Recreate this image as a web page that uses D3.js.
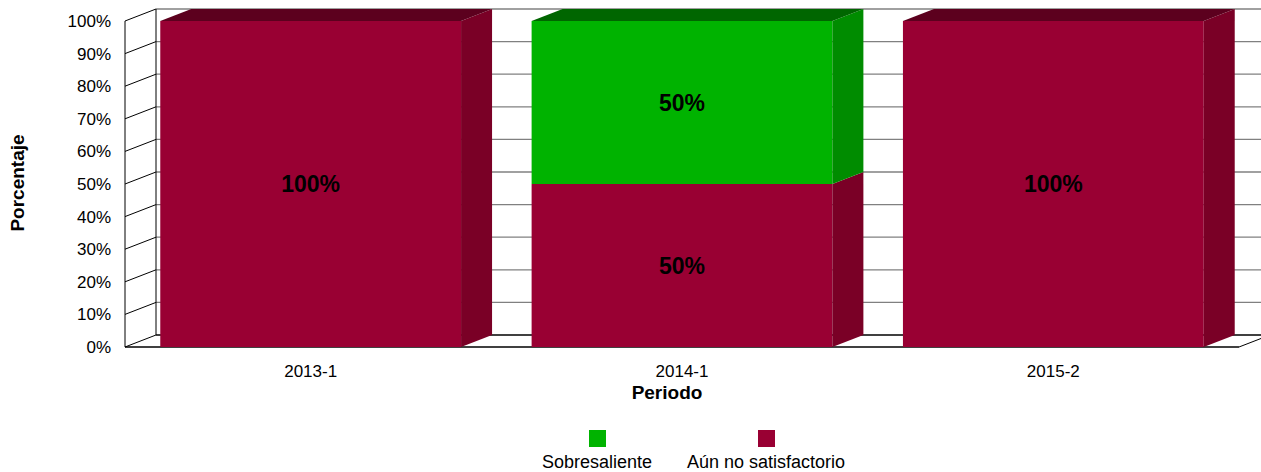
<!DOCTYPE html>
<html>
<head>
<meta charset="utf-8">
<script src="https://cdn.jsdelivr.net/npm/d3@7"></script>
<style>
  html, body { margin: 0; padding: 0; background: #fff; }
  svg { display: block; font-family: "Liberation Sans", Arial, sans-serif; }
</style>
</head>
<body>
<svg id="chart" width="1261" height="472"></svg>
<script>
const categories = ["2013-1", "2014-1", "2015-2"];
const sobresaliente = [0, 50, 0];
const aunNoSatisfactorio = [100, 50, 100];
const seriesNames = ["Sobresaliente", "Aún no satisfactorio"];
const yTickValues = [0, 10, 20, 30, 40, 50, 60, 70, 80, 90, 100];

const colors = {
  "Aún no satisfactorio": { front: "#990033", side: "#7a0026", top: "#5c001e" },
  "Sobresaliente": { front: "#00b300", side: "#008c00", top: "#006600" }
};

const svg = d3.select("#chart");
const DX = 31, DY = -12;

const x = d3.scaleBand().domain(categories).range([125, 1239])
  .paddingInner(0.19).paddingOuter(0.095);
const y = d3.scaleLinear().domain([0, 100]).range([347, 21]);

// gridlines (back wall)
const grid = svg.append("g");
yTickValues.forEach(t => {
  const yy = y(t);
  grid.append("line").attr("x1", 125).attr("y1", yy).attr("x2", 125 + DX).attr("y2", yy + DY)
    .attr("stroke", "#000").attr("stroke-width", 1);
  grid.append("line").attr("x1", 125 + DX).attr("y1", yy + DY).attr("x2", 1239 + DX).attr("y2", yy + DY)
    .attr("stroke", t === 0 ? "#000" : "#808080").attr("stroke-width", 1.3);
});
// walls
grid.append("line").attr("x1", 125).attr("y1", y(0)).attr("x2", 125).attr("y2", y(100)).attr("stroke", "#000");
grid.append("line").attr("x1", 125 + DX).attr("y1", y(0) + DY).attr("x2", 125 + DX).attr("y2", y(100) + DY).attr("stroke", "#000");
// floor
grid.append("line").attr("x1", 125).attr("y1", y(0)).attr("x2", 1239).attr("y2", y(0)).attr("stroke", "#000").attr("stroke-width", 1.5);
grid.append("line").attr("x1", 1239).attr("y1", y(0)).attr("x2", 1239 + DX).attr("y2", y(0) + DY).attr("stroke", "#000");

// y tick labels
svg.append("g").selectAll("text").data(yTickValues).join("text")
  .attr("x", 111).attr("y", d => y(d)).attr("dy", "0.35em")
  .attr("text-anchor", "end").attr("font-size", 17).attr("fill", "#000")
  .text(d => d + "%");

// bars
const bars = svg.append("g");
const labels = svg.append("g");
categories.forEach((c, i) => {
  const segs = [
    { name: "Aún no satisfactorio", v0: 0, v1: aunNoSatisfactorio[i] },
    { name: "Sobresaliente", v0: aunNoSatisfactorio[i], v1: aunNoSatisfactorio[i] + sobresaliente[i] }
  ].filter(s => s.v1 > s.v0);
  const x0 = x(c), x1 = x(c) + x.bandwidth();
  segs.forEach((s, k) => {
    const col = colors[s.name];
    const yb = y(s.v0), yt = y(s.v1);
    bars.append("rect").attr("x", x0).attr("y", yt).attr("width", x1 - x0).attr("height", yb - yt)
      .attr("fill", col.front);
    bars.append("path").attr("d", `M${x1},${yb}L${x1 + DX},${yb + DY}L${x1 + DX},${yt + DY}L${x1},${yt}Z`)
      .attr("fill", col.side);
    if (k === segs.length - 1) {
      bars.append("path").attr("d", `M${x0},${yt}L${x0 + DX},${yt + DY}L${x1 + DX},${yt + DY}L${x1},${yt}Z`)
        .attr("fill", col.top);
    }
    labels.append("text").attr("x", (x0 + x1) / 2).attr("y", (yb + yt) / 2).attr("dy", "0.35em")
      .attr("text-anchor", "middle").attr("font-size", 23).attr("font-weight", "bold").attr("fill", "#000")
      .text((s.v1 - s.v0) + "%");
  });
});

// category labels
svg.append("g").selectAll("text").data(categories).join("text")
  .attr("x", d => x(d) + x.bandwidth() / 2).attr("y", 377)
  .attr("text-anchor", "middle").attr("font-size", 17).attr("fill", "#000")
  .text(d => d);

// axis titles
svg.append("text").attr("x", 667).attr("y", 399).attr("text-anchor", "middle")
  .attr("font-size", 19).attr("font-weight", "bold").text("Periodo");
svg.append("text").attr("transform", "translate(24,183) rotate(-90)").attr("text-anchor", "middle")
  .attr("font-size", 19).attr("font-weight", "bold").text("Porcentaje");

// legend
const legendX = [597, 766];
const lg = svg.append("g");
seriesNames.forEach((n, i) => {
  lg.append("rect").attr("x", legendX[i] - 8).attr("y", 430).attr("width", 17).attr("height", 17)
    .attr("fill", colors[n].front);
  lg.append("text").attr("x", legendX[i]).attr("y", 468).attr("text-anchor", "middle")
    .attr("font-size", 18).attr("fill", "#000").text(n);
});
</script>
</body>
</html>
